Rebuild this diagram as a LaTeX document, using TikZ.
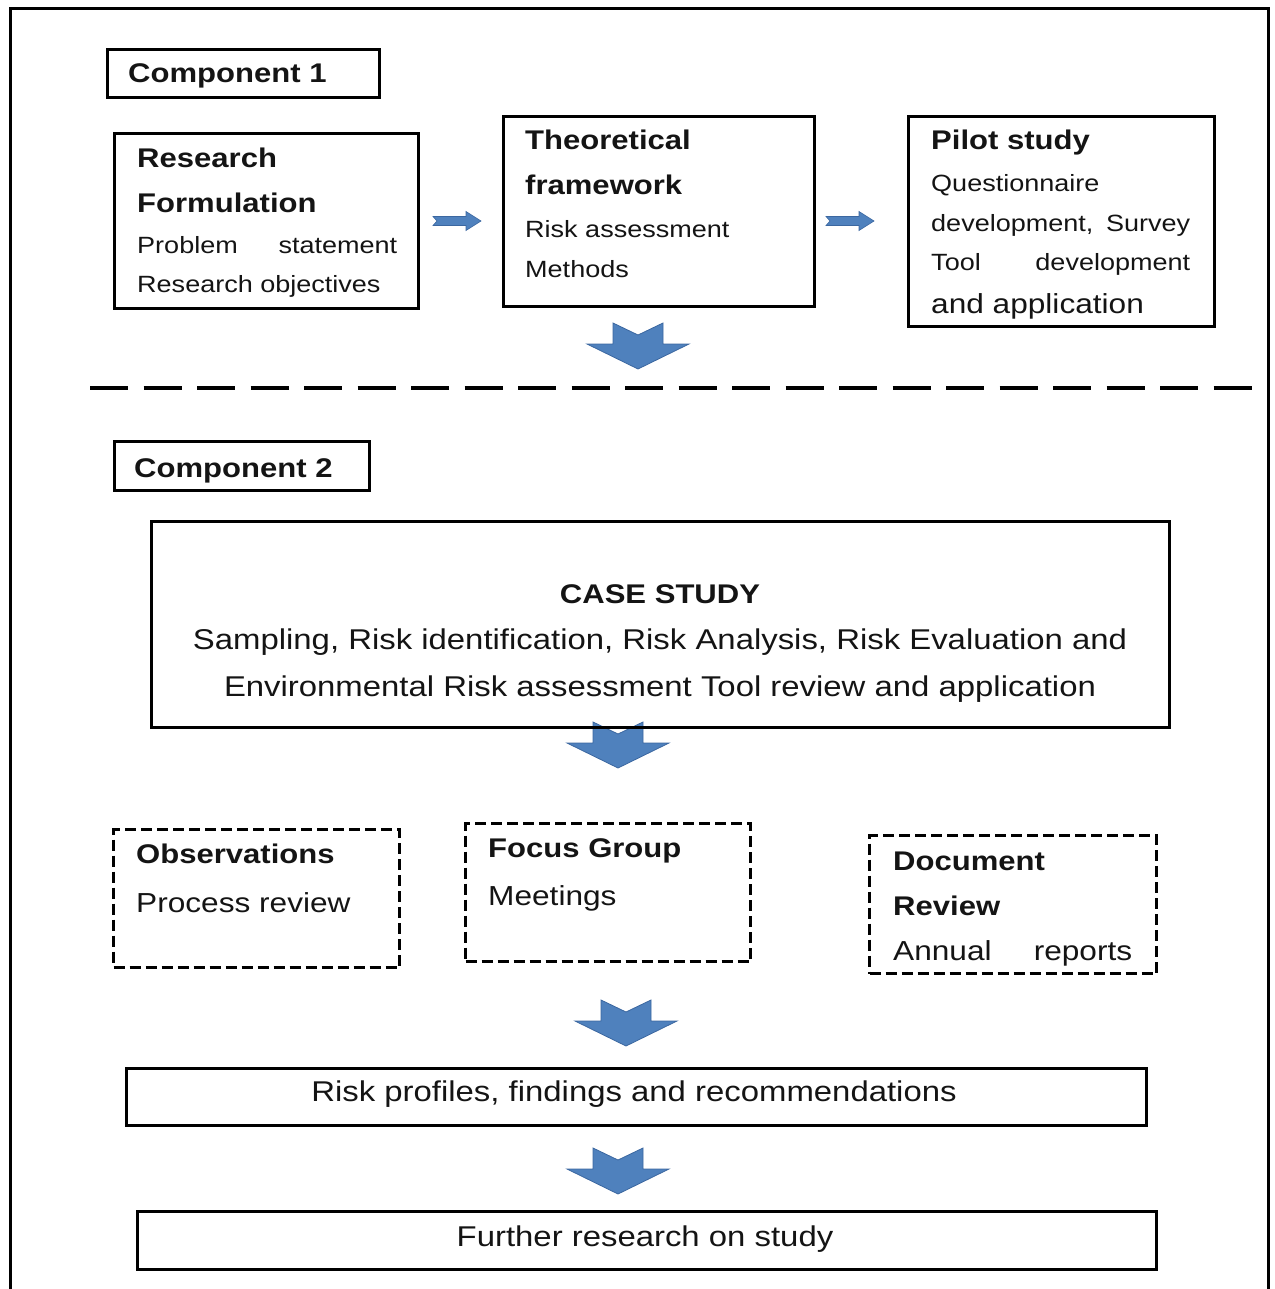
\documentclass[tikz,border=0pt]{standalone}
\usepackage{fontspec}
\setmainfont{Liberation Sans}[FakeStretch=1.15]
\definecolor{arrowblue}{HTML}{4F81BD}
\definecolor{arrowedge}{HTML}{3B67A0}
\definecolor{txt}{HTML}{141414}
\tikzset{
  frameline/.style={line width=3pt},
  solidbox/.style={draw, line width=3pt, inner sep=0pt, anchor=north west},
  dashbox/.style={draw, line width=3pt, dash pattern=on 11pt off 5pt, inner sep=0pt, anchor=north west},
  hdtext/.style={anchor=base west, inner sep=0pt, text=txt, font=\fontsize{27}{32}\selectfont\bfseries},
  bdtext/.style={anchor=base west, inner sep=0pt, text=txt, font=\fontsize{23.5}{28}\selectfont},
  lowbd/.style={anchor=base west, inner sep=0pt, text=txt, font=\fontsize{27.5}{32}\selectfont},
  midtext/.style={anchor=base, inner sep=0pt, text=txt, font=\fontsize{28.6}{34}\selectfont},
  midhead/.style={anchor=base, inner sep=0pt, text=txt, font=\fontsize{27}{32}\selectfont\bfseries},
  bigdown/.pic={\filldraw[fill=arrowblue, draw=arrowedge, line width=0.8pt]
     (-25,0) -- (-25,21) -- (-51,21) -- (0,46) -- (51,21) -- (25,21) -- (25,0) -- (0,12) -- cycle;},
  smallright/.pic={\filldraw[fill=arrowblue, draw=arrowedge, line width=0.6pt]
     (0,-4.5) -- (33,-4.5) -- (33,-9.5) -- (48,0) -- (33,9.5) -- (33,4.5) -- (0,4.5) -- (4,0) -- cycle;}
}
\begin{document}
\begin{tikzpicture}[x=1pt,y=-1pt]
\useasboundingbox (0,0) rectangle (1274,1289);
% outer frame (open at bottom)
\draw[frameline] (10,1289) -- (10,9) -- (1268,9) -- (1268,1289);

% ---------- Component 1 ----------
\node[solidbox, minimum width=272pt, minimum height=48pt] (c1) at (106,48) {};
\node[hdtext] (c1t) at (128,83) {Component 1};

\node[solidbox, minimum width=304pt, minimum height=175pt] (rf) at (113,132) {};
\node[hdtext] (rf1) at (137,168) {Research};
\node[hdtext] (rf2) at (137,213) {Formulation};
\node[bdtext] (rf3) at (137,253) {\hbox to 260pt{Problem\hfill statement}};
\node[bdtext] (rf4) at (137,292) {Research objectives};

\node[solidbox, minimum width=311pt, minimum height=190pt] (tf) at (502,115) {};
\node[hdtext] (tf1) at (525,150) {Theoretical};
\node[hdtext] (tf2) at (525,195) {framework};
\node[bdtext] (tf3) at (525,238) {Risk assessment};
\node[bdtext] (tf4) at (525,277) {Methods};

\node[solidbox, minimum width=306pt, minimum height=210pt] (ps) at (907,115) {};
\begin{scope}
  \clip (907,115) rectangle (1213,323);
  \node[hdtext] (ps1) at (931,150) {Pilot study};
  \node[bdtext] (ps2) at (931,192) {Questionnaire};
  \node[bdtext] (ps3) at (931,232) {\hbox to 259pt{development,\hfill Survey}};
  \node[bdtext] (ps4) at (931,270) {\hbox to 259pt{Tool\hfill development}};
  \node[lowbd] (ps5) at (931,313) {and application};
\end{scope}

\pic at (433,221) {smallright};
\pic at (826,221) {smallright};
\pic at (638,323) {bigdown};

% dashed separator
\coordinate (sepL) at (90,388);
\coordinate (sepR) at (1252,388);
\draw[line width=4pt, dash pattern=on 38pt off 15.5pt] (sepL) -- (sepR);

% ---------- Component 2 ----------
\node[solidbox, minimum width=255pt, minimum height=49pt] (c2) at (113,440) {};
\node[hdtext] (c2t) at (134,477) {Component 2};

\pic at (618,722) {bigdown};
\node[solidbox, minimum width=1018pt, minimum height=206pt] (cs) at (150,520) {};
\node[midhead] (cs1) at (660,603) {CASE STUDY};
\node[midtext] (cs2) at (660,649) {Sampling, Risk identification, Risk Analysis, Risk Evaluation and};
\node[midtext] (cs3) at (660,696) {Environmental Risk assessment Tool review and application};

\node[dashbox, minimum width=286pt, minimum height=138pt] (ob) at (112,828) {};
\node[hdtext] (ob1) at (136,863) {Observations};
\node[lowbd] (ob2) at (136,912) {Process review};

\node[dashbox, minimum width=285pt, minimum height=138pt] (fg) at (464,822) {};
\node[hdtext] (fg1) at (488,857) {Focus Group};
\node[lowbd] (fg2) at (488,905) {Meetings};

\node[dashbox, minimum width=287pt, minimum height=138pt] (dr) at (868,834) {};
\begin{scope}
  \clip (868,834) rectangle (1155,970);
  \node[hdtext] (dr1) at (893,870) {Document};
  \node[hdtext] (dr2) at (893,915) {Review};
  \node[lowbd] (dr3) at (893,960) {\hbox to 239pt{Annual\hfill reports}};
\end{scope}

\pic at (626,1000) {bigdown};
\node[solidbox, minimum width=1020pt, minimum height=57pt] (rp) at (125,1067) {};
\node[midtext] (rpt) at (634,1101) {Risk profiles, findings and recommendations};

\pic at (618,1148) {bigdown};
\node[solidbox, minimum width=1019pt, minimum height=58pt] (fr) at (136,1210) {};
\node[midtext] (frt) at (645,1246) {Further research on study};
\end{tikzpicture}
\end{document}
